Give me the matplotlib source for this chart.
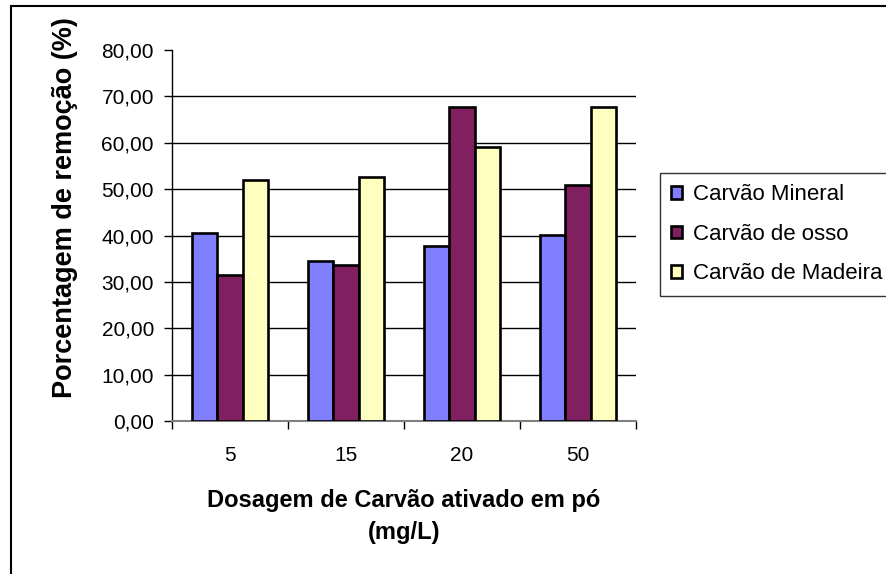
import numpy as np
import matplotlib.pyplot as plt
from matplotlib.patches import Rectangle

categories = ['5', '15', '20', '50']
series_names = ['Carvão Mineral', 'Carvão de osso', 'Carvão de Madeira']
mineral = [40.6, 34.6, 37.7, 40.1]
osso = [31.4, 33.6, 67.8, 50.8]
madeira = [52.0, 52.6, 59.0, 67.8]
y_ticks = [0, 10, 20, 30, 40, 50, 60, 70, 80]
y_tick_labels = ['0,00', '10,00', '20,00', '30,00', '40,00', '50,00', '60,00', '70,00', '80,00']

colors = ['#8080FF', '#802060', '#FFFFC0']

plt.rcParams['font.family'] = ['Liberation Sans', 'DejaVu Sans']

W, H = 886, 574
fig = plt.figure(figsize=(W / 100, H / 100), dpi=100)
ax = fig.add_axes([172 / W, 1 - 421 / H, (636 - 172) / W, (421 - 50) / H])

x = np.arange(len(categories))
bw = 0.22
for i, (vals, name) in enumerate(zip([mineral, osso, madeira], series_names)):
    ax.bar(x + (i - 1) * bw, vals, bw, color=colors[i], edgecolor='black',
           linewidth=1.9, label=name, zorder=3)

ax.set_xlim(-0.5, len(categories) - 0.5)
ax.set_ylim(0, 80)
ax.set_yticks(y_ticks)
ax.set_yticklabels(y_tick_labels, fontsize=15)
ax.set_xticks(x)
ax.set_xticklabels(categories, fontsize=15)
ax.tick_params(axis='x', which='major', length=0, pad=18)
ax.set_xticks(np.arange(-0.5, len(categories), 1.0), minor=True)
ax.tick_params(axis='x', which='minor', length=6, color='black', width=1)
ax.tick_params(axis='y', length=6, width=1, pad=7)

# gridlines up to 70 only
for v in y_ticks[1:-1]:
    ax.axhline(v, color='black', linewidth=1, zorder=1)

ax.spines['top'].set_visible(False)
ax.spines['right'].set_visible(False)
ax.spines['left'].set_linewidth(1)
ax.spines['bottom'].set_color('#808080')
ax.spines['bottom'].set_linewidth(1.5)

fig.text(65 / W, 1 - 208 / H, 'Porcentagem de remoção (%)', fontsize=19.5,
         fontweight='bold', rotation=90, ha='center', va='center')
fig.text(404 / W, 1 - 500 / H, 'Dosagem de Carvão ativado em pó', fontsize=17,
         fontweight='bold', ha='center', va='center')
fig.text(404 / W, 1 - 533 / H, '(mg/L)', fontsize=17, fontweight='bold',
         ha='center', va='center')

leg = fig.legend(loc='upper left', bbox_to_anchor=(660 / W, 1 - 173 / H),
                 fontsize=16, frameon=True, fancybox=False, handlelength=0.5,
                 handleheight=0.5, handletextpad=0.5, labelspacing=0.84,
                 borderaxespad=0, borderpad=0.5)
leg.get_frame().set_edgecolor('black')
leg.get_frame().set_linewidth(1)

fig.patches.append(Rectangle((11 / W, -0.1), 1.2, (H - 6) / H + 0.1,
                             transform=fig.transFigure, fill=False,
                             edgecolor='black', linewidth=1.5))

fig.savefig('out.png', dpi=100)
